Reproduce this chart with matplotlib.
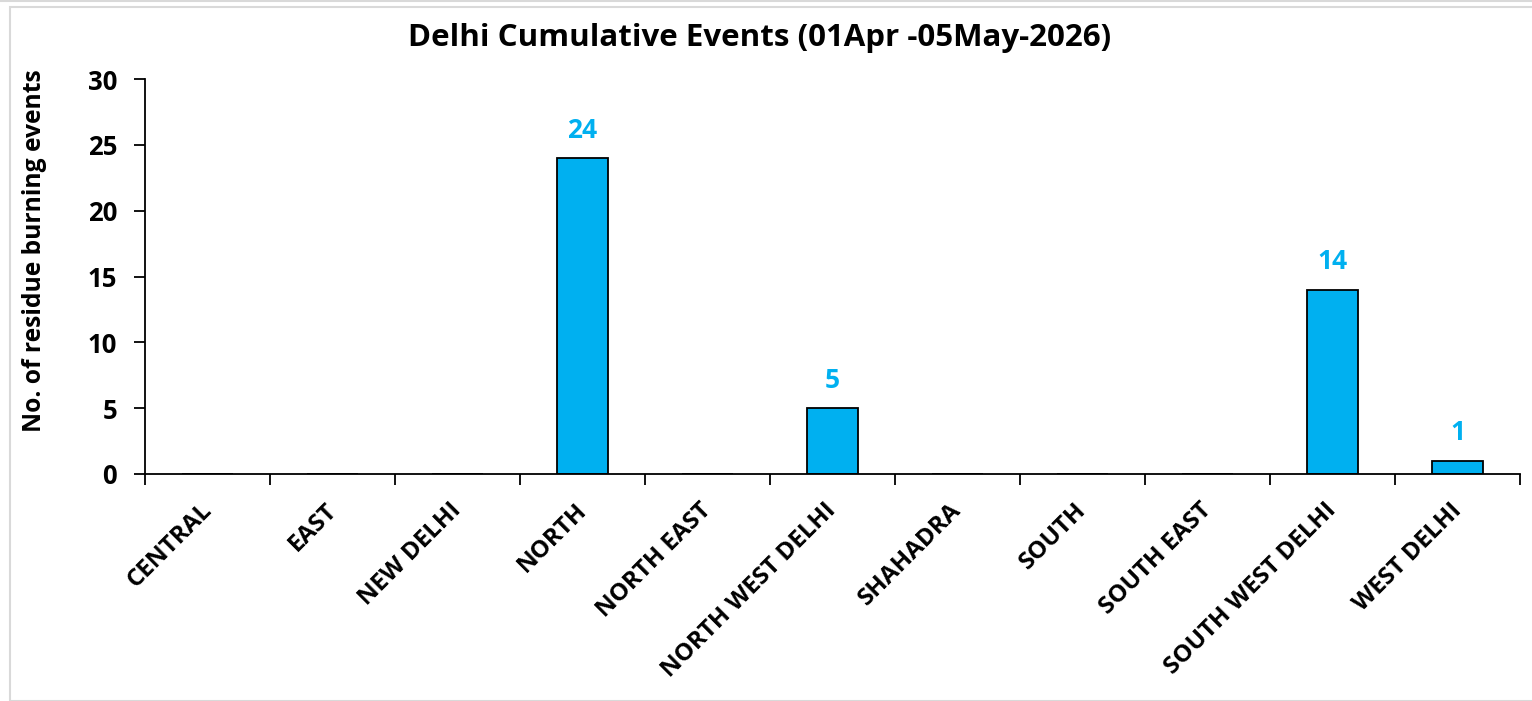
import numpy as np
import matplotlib.pyplot as plt
from matplotlib.patches import Rectangle
from matplotlib.transforms import ScaledTranslation

districts = ['CENTRAL', 'EAST', 'NEW DELHI', 'NORTH', 'NORTH EAST', 'NORTH WEST DELHI',
             'SHAHADRA', 'SOUTH', 'SOUTH EAST', 'SOUTH WEST DELHI', 'WEST DELHI']
events = [0, 0, 0, 24, 0, 5, 0, 0, 0, 14, 1]
yticks = [0, 5, 10, 15, 20, 25, 30]

blue = '#00B0F0'
plt.rcParams['font.family'] = ['Open Sans', 'DejaVu Sans']
plt.rcParams['font.weight'] = 'bold'

W, H = 1532, 701
fig = plt.figure(figsize=(W / 100, H / 100), dpi=100)
ax = fig.add_axes([145 / W, 1 - 474 / H, 1375 / W, 395 / H])

# light border of the chart area
fig.patches.append(Rectangle((10 / W, 0), 1, 1 - 7 / H, transform=fig.transFigure,
                             fill=False, edgecolor='#d9d9d9', lw=1.5))
fig.add_artist(plt.Line2D([0, 1], [1 - 1 / H, 1 - 1 / H], color='#d9d9d9', lw=1.5))

x = np.arange(len(districts))
bars = ax.bar(x, events, width=0.41, color=blue, edgecolor='black', linewidth=1.3)
for xi, v in zip(x, events):
    if v > 0:
        ax.text(xi, v + 1.1, str(v), ha='center', va='bottom', color=blue,
                fontsize=19, fontweight='bold')

ax.set_xlim(-0.5, len(districts) - 0.5)
ax.set_ylim(0, 30)
ax.set_yticks(yticks)
ax.set_xticks(x)
ax.set_xticks(np.arange(len(districts) + 1) - 0.5, minor=True)
ax.set_xticklabels(districts, rotation=45, ha='right', rotation_mode='anchor',
                   fontsize=17.5, fontweight='bold')
ax.tick_params(axis='x', which='major', length=0, pad=14)
ax.tick_params(axis='x', which='minor', length=8, width=1.3, direction='out')
ax.tick_params(axis='y', length=8, width=1.3, labelsize=18.5, pad=12)
for lab in ax.get_yticklabels():
    lab.set_fontweight('bold')
shift = ScaledTranslation(-0.08, -0.05, fig.dpi_scale_trans)
for lab in ax.get_xticklabels():
    lab.set_transform(lab.get_transform() + shift)

for s in ['top', 'right']:
    ax.spines[s].set_visible(False)
ax.spines['left'].set_linewidth(1.3)
ax.spines['bottom'].set_linewidth(1.3)

ax.set_ylabel('No. of residue burning events', fontsize=17.7, fontweight='bold')
ax.yaxis.set_label_coords(-0.071, 0.565)
fig.text(760 / W, 1 - 38 / H, 'Delhi Cumulative Events (01Apr -05May-2026)',
         ha='center', va='center', fontsize=22.5, fontweight='bold')

fig.savefig('out.png', dpi=100)
